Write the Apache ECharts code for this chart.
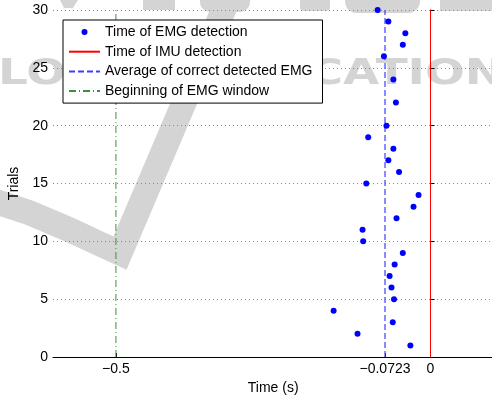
<!DOCTYPE html>
<html>
<head>
<meta charset="utf-8">
<script src="https://cdn.jsdelivr.net/npm/echarts@6/dist/echarts.min.js"></script>
<style>
  html, body { margin: 0; padding: 0; background: #fff; }
  #chart { width: 492px; height: 396px; }
</style>
</head>
<body>
<div id="chart"></div>
<script>
// trials that had a correct EMG detection, and the time of that detection (s)
const trials = [1, 2, 3, 4, 5, 6, 7, 8, 9, 10, 11, 12, 13, 14, 15, 16, 17, 18, 19, 20, 22, 24, 26, 27, 28, 29, 30]
const emgTimes = [-0.032, -0.116, -0.060, -0.154, -0.058, -0.062, -0.065, -0.057, -0.044, -0.107,
  -0.108, -0.054, -0.027, -0.019, -0.102, -0.050, -0.067, -0.059, -0.099, -0.070,
  -0.055, -0.059, -0.074, -0.044, -0.040, -0.067, -0.084]

const imuTime = 0
const avgEmg = -0.0723
const windowStart = -0.5

const xTicks = [-0.5, -0.0723, 0]
const xTickLabels = ['\u22120.5', '\u22120.0723', '0']
const yRange = [0, 30]

const font = 'Liberation Sans, Arial, sans-serif'
const wm = '#d4d4d4'

const vline = (x) => [[x, yRange[0]], [x, yRange[1]]]

// bits of the big watermark letters cut off at the top edge
const wmTop = [
  [143, 32, 10, 0], [200, 50, 12, 10], [300, 30, 11, 4], [345, 75, 13, 12], [440, 60, 11, 0]
]

const option = {
  animation: false,
  textStyle: { fontFamily: font },
  grid: { left: 53, top: 10, width: 440.42, height: 347, outerBoundsMode: 'none' },
  graphic: {
    elements: [
      // faint publisher watermark behind the plot
      {
        type: 'polyline',
        z: -10,
        silent: true,
        shape: { points: [[-12, 199], [30, 213], [70, 230], [100, 244], [120, 253], [232, -10]] },
        style: { fill: null, stroke: wm, lineWidth: 25, lineJoin: 'miter' }
      },
      {
        type: 'polygon',
        z: -10,
        silent: true,
        shape: { points: [[60, 0], [78, 0], [73, 8], [64, 8]] },
        style: { fill: wm }
      },
      ...wmTop.map(([x, w, h, r]) => ({
        type: 'rect',
        z: -10,
        silent: true,
        shape: { x: x, y: -20, width: w, height: h + 20, r: [0, 0, r, r] },
        style: { fill: wm }
      })),
      {
        type: 'text',
        z: -10,
        silent: true,
        x: -2,
        y: 75,
        scaleX: 1.3,
        style: {
          text: 'LOGY PUBLICATIONS',
          font: 'bold 36px DejaVu Sans',
          fill: wm,
          verticalAlign: 'middle'
        }
      }
    ]
  },
  legend: {
    orient: 'vertical',
    left: 63,
    top: 20,
    padding: [5, 10, 5, 5],
    itemGap: 5.7,
    itemWidth: 31,
    itemHeight: 6,
    backgroundColor: '#fff',
    borderColor: '#000',
    borderWidth: 1,
    borderRadius: 0,
    textStyle: { fontSize: 14, color: '#000', fontFamily: font, lineHeight: 14 },
    data: [
      { name: 'Time of EMG detection' },
      { name: 'Time of IMU detection', itemStyle: { opacity: 0 } },
      { name: 'Average of correct detected EMG', itemStyle: { opacity: 0 } },
      { name: 'Beginning of EMG window', itemStyle: { opacity: 0 } }
    ]
  },
  xAxis: {
    type: 'value',
    min: -0.6,
    max: 0.1,
    name: 'Time (s)',
    nameLocation: 'middle',
    nameGap: 17,
    nameTextStyle: { fontSize: 14, color: '#000', fontFamily: font },
    axisLine: { lineStyle: { color: '#000', width: 1 } },
    axisTick: { inside: true, length: 4, customValues: xTicks, lineStyle: { color: '#000' } },
    axisLabel: {
      customValues: xTicks,
      fontSize: 14,
      color: '#000',
      margin: 5,
      formatter: (v) => {
        let best = 0
        xTicks.forEach((t, i) => { if (Math.abs(t - v) < Math.abs(xTicks[best] - v)) best = i })
        return xTickLabels[best]
      }
    },
    splitLine: { show: false }
  },
  yAxis: {
    type: 'value',
    min: yRange[0],
    max: yRange[1],
    interval: 5,
    name: 'Trials',
    nameLocation: 'middle',
    nameGap: 24,
    nameTextStyle: { fontSize: 14, color: '#000', fontFamily: font },
    axisLine: { show: true, lineStyle: { color: '#000', width: 1 } },
    axisTick: { show: true, inside: true, length: 4, lineStyle: { color: '#000' } },
    axisLabel: { fontSize: 14, color: '#000', margin: 5 },
    splitLine: { show: true, lineStyle: { color: '#888', type: [1, 3], width: 1 } }
  },
  series: [
    {
      name: 'Time of EMG detection',
      type: 'scatter',
      symbol: 'circle',
      symbolSize: 6,
      itemStyle: { color: '#0000ff', opacity: 1 },
      z: 5,
      data: trials.map((t, i) => [emgTimes[i], t])
    },
    {
      name: 'Time of IMU detection',
      type: 'line',
      symbol: 'none',
      lineStyle: { color: '#ff0000', width: 1 },
      itemStyle: { color: '#ff0000' },
      data: vline(imuTime)
    },
    {
      name: 'Average of correct detected EMG',
      type: 'line',
      symbol: 'none',
      lineStyle: { color: '#3d3dff', width: 1.2, type: [6, 3] },
      itemStyle: { color: '#3d3dff' },
      data: vline(avgEmg)
    },
    {
      name: 'Beginning of EMG window',
      type: 'line',
      symbol: 'none',
      lineStyle: { color: '#3a913a', width: 1, type: [7, 3, 1, 3] },
      itemStyle: { color: '#3a913a' },
      data: vline(windowStart)
    }
  ]
}

const chart = echarts.init(document.getElementById('chart'), null, { renderer: 'canvas' })
chart.setOption(option)
</script>
</body>
</html>
